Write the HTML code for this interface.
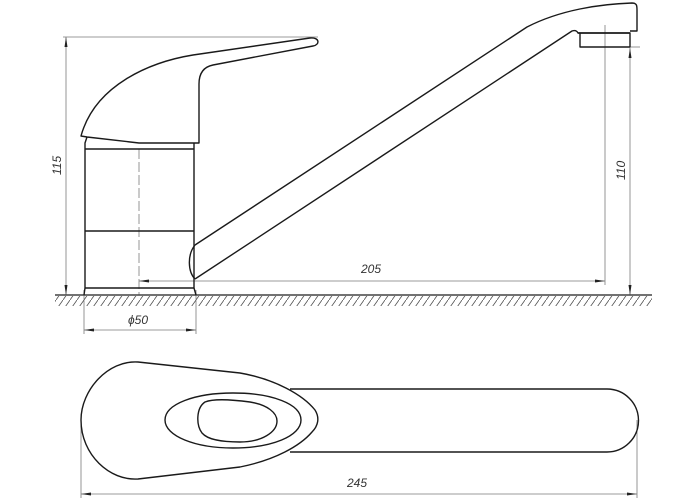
<!DOCTYPE html>
<html><head><style>html,body{margin:0;padding:0;background:#fff}svg{display:block}</style></head>
<body>
<svg width="700" height="500" viewBox="0 0 700 500" xmlns="http://www.w3.org/2000/svg">
<defs>
<pattern id="h" width="7" height="10" patternUnits="userSpaceOnUse">
<line x1="7" y1="0" x2="0" y2="10" stroke="#555" stroke-width="0.8"/>
</pattern>
<marker id="a" markerWidth="10" markerHeight="6" refX="10" refY="3" orient="auto" markerUnits="userSpaceOnUse"><path d="M0,1.5 L10,3 L0,4.5 z" fill="#222"/></marker>
<marker id="b" markerWidth="10" markerHeight="6" refX="0" refY="3" orient="auto" markerUnits="userSpaceOnUse"><path d="M10,1.5 L0,3 L10,4.5 z" fill="#222"/></marker>
</defs>
<g fill="none" stroke="#7a7a7a" stroke-width="0.8">
<line x1="63" y1="37" x2="318" y2="37"/>
<line x1="66" y1="37" x2="66" y2="295" marker-start="url(#b)" marker-end="url(#a)"/>
<line x1="139" y1="281" x2="605" y2="281" marker-start="url(#b)" marker-end="url(#a)"/>
<line x1="605" y1="25" x2="605" y2="285"/>
<line x1="630" y1="48" x2="630" y2="295" marker-start="url(#b)" marker-end="url(#a)"/>
<line x1="628" y1="47" x2="640" y2="47"/>
<line x1="84" y1="290" x2="84" y2="334"/>
<line x1="196" y1="290" x2="196" y2="334"/>
<line x1="84" y1="330" x2="196" y2="330" marker-start="url(#b)" marker-end="url(#a)"/>
<line x1="139" y1="149" x2="139" y2="295" stroke-dasharray="10,3"/>
<line x1="81" y1="420" x2="81" y2="498"/>
<line x1="637" y1="420" x2="637" y2="498"/>
<line x1="81" y1="494" x2="637" y2="494" marker-start="url(#b)" marker-end="url(#a)"/>
</g>
<rect x="55" y="296" width="597" height="10" fill="url(#h)"/>
<line x1="55" y1="295" x2="652" y2="295" stroke="#444" stroke-width="1.5"/>
<g fill="none" stroke="#1a1a1a" stroke-width="1.4" stroke-linejoin="round">
<path d="M81,136 C95,85 150,62 193,55 L310,38 C320,37 320,45 313,46 L213,65 C203,67 199,74 199,84 L199,143 L139,143 L87,137 Z"/>
<path d="M87,137 L85,143 L85,288 L84,295"/>
<path d="M194,143 L194,288 L196,295"/>
<line x1="85" y1="149" x2="194" y2="149"/>
<line x1="85" y1="231" x2="194" y2="231"/>
<line x1="85" y1="288" x2="194" y2="288"/>
<path d="M195,245 L527,27 C560,10 600,4 632,3 C637,3 637,6 637,10 L637,31 L630,31"/>
<path d="M195,279 C188,272 187,255 195,245"/>
<path d="M195,279 L572,31 C575,30 577,31 578,33 L580,33"/>
<rect x="580" y="33" width="50" height="14"/>
<line x1="578" y1="33" x2="630" y2="33"/>
<path d="M138,362 L240,373 C275,379 303,395 315,410 C320,418 318,426 312,432 C300,446 275,460 240,467 L138,479 C110,481 81,455 81,420 C81,390 108,360 138,362 Z"/>
<path d="M290,389 L607,389 A31.5,31.5 0 0 1 607,452 L290,452"/>
<path d="M165,420 C165,404 195,393 233,393 C272,393 301,404 301,420 C301,436 272,448 233,448 C195,448 165,436 165,420 Z"/>
<path d="M205,402 C215,398 235,400 250,402 C268,405 277,413 277,421 C277,432 262,442 240,442 C222,442 208,440 202,433 C196,425 196,408 205,402 Z"/>
</g>
<g font-family="Liberation Sans, sans-serif" font-style="italic" font-size="12" fill="#333">
<text x="361" y="273">205</text>
<text x="128" y="324">ϕ50</text>
<text x="347" y="487">245</text>
<text transform="translate(61,175) rotate(-90)">115</text>
<text transform="translate(625,180) rotate(-90)">110</text>
</g>
</svg>
</body></html>
